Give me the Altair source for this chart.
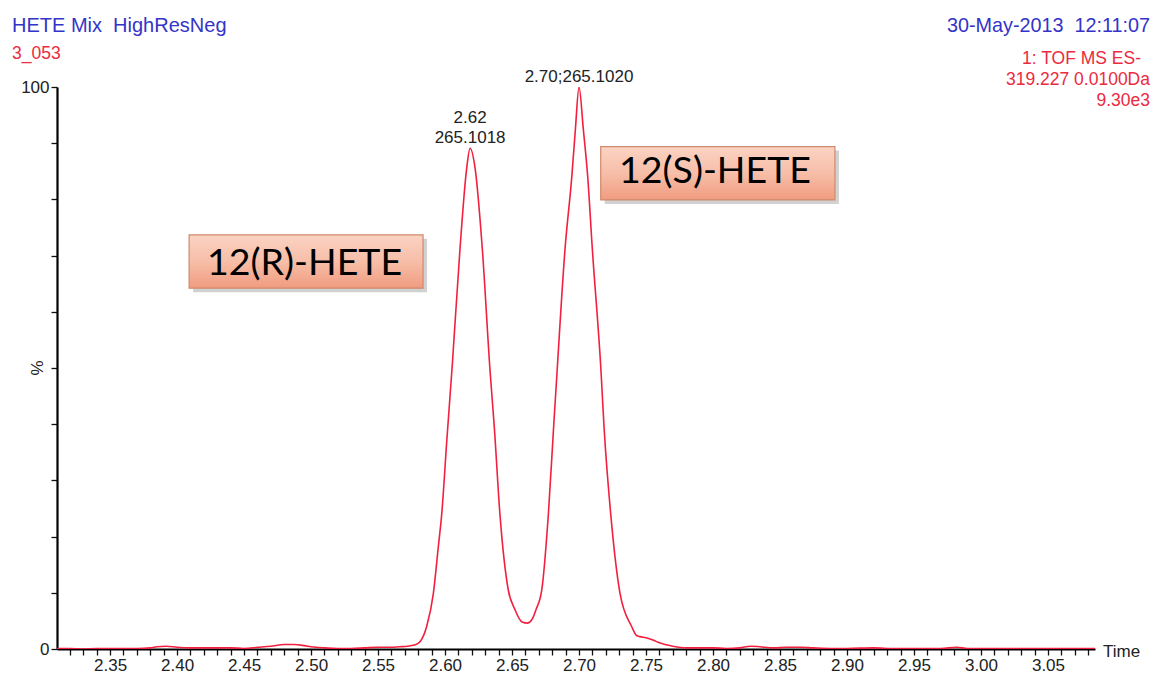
import altair as alt
import pandas as pd

# ---------------- data ----------------
time = [2.310, 2.320, 2.330, 2.340, 2.350, 2.360, 2.370, 2.380, 2.385, 2.392,
        2.400, 2.410, 2.420, 2.430, 2.440, 2.450, 2.460, 2.470, 2.480, 2.487,
        2.495, 2.500, 2.510, 2.520, 2.530, 2.540, 2.550, 2.560, 2.566, 2.572,
        2.577, 2.5813, 2.5863, 2.5913, 2.5950, 2.5975, 2.6013, 2.6054, 2.6112, 2.6162,
        2.6187, 2.6224, 2.6278, 2.6336, 2.6368, 2.6410, 2.6472, 2.6522, 2.6575, 2.6617,
        2.6650, 2.6679, 2.6722, 2.6771, 2.6813, 2.6834, 2.6896, 2.6946, 2.6973, 2.7000,
        2.7032, 2.7065, 2.7099, 2.7164, 2.7187, 2.7237, 2.7306, 2.7393, 2.7430, 2.7455,
        2.7500, 2.7552, 2.7600, 2.7700, 2.7800, 2.790, 2.800, 2.810, 2.820, 2.828,
        2.835, 2.845, 2.855, 2.865, 2.875, 2.890, 2.900, 2.920, 2.930, 2.950,
        2.970, 2.982, 2.990, 3.000, 3.020, 3.040, 3.060, 3.085]
pct = [0.1, 0.1, 0.0, 0.1, 0.1, 0.1, 0.1, 0.2, 0.4, 0.5,
       0.3, 0.2, 0.2, 0.2, 0.2, 0.1, 0.3, 0.5, 0.8, 0.8,
       0.6, 0.4, 0.2, 0.1, 0.1, 0.2, 0.3, 0.3, 0.4, 0.5,
       0.7, 1.3, 4.0, 9.9, 18.2, 23.9, 37.0, 50.5, 71.3, 85.6,
       89.1, 85.6, 71.3, 49.5, 39.4, 23.9, 10.5, 7.0, 4.8, 4.6,
       5.3, 7.0, 10.5, 23.9, 40.5, 48.5, 71.3, 84.0, 92.5, 100.0,
       92.5, 84.0, 71.3, 49.5, 39.4, 23.9, 9.9, 4.0, 2.4, 2.2,
       2.0, 1.6, 1.1, 0.5, 0.2, 0.2, 0.2, 0.1, 0.2, 0.5,
       0.4, 0.2, 0.3, 0.3, 0.2, 0.1, 0.1, 0.2, 0.1, 0.1,
       0.1, 0.3, 0.1, 0.1, 0.1, 0.1, 0.1, 0.1]

x_domain = [2.3104, 3.0851]
y_domain = [0, 100]
x_labels = ["2.35", "2.40", "2.45", "2.50", "2.55", "2.60", "2.65", "2.70",
            "2.75", "2.80", "2.85", "2.90", "2.95", "3.00", "3.05"]
x_ticks = [round(2.32 + 0.01 * i, 2) for i in range(77)]
y_ticks = [0, 10, 20, 30, 40, 50, 60, 70, 80, 90, 100]
y_labels = ["0", "100"]

NB = "\u00a0"
header_left = ["HETE Mix" + NB + " HighResNeg", "3_053"]
header_right = ["30-May-2013" + NB + " 12:11:07", "1: TOF MS ES-", "319.227 0.0100Da", "9.30e3"]
y_title = "%"
x_title = "Time"

peak_time = [2.6187, 2.7000]
peak_pct = [89.1, 100.0]
peak_label_top = ["2.62", ""]
peak_label_bottom = ["265.1018", "2.70;265.1020"]

box_name = ["12(R)-HETE", "12(S)-HETE"]
box_t0 = [2.4090, 2.7162]
box_t1 = [2.5836, 2.8910]
box_p0 = [64.2, 79.9]
box_p1 = [73.7, 89.4]
box_text_t = [2.4952, 2.8015]
box_text_p = [66.5, 82.9]

RED = "#f2203e"
BLUE = "#3434c8"
TXT_RED = "#ec2a40"
FONT = "Liberation Sans"

trace = pd.DataFrame({"time": time, "pct": pct})
peaks = pd.DataFrame({"time": peak_time, "pct": peak_pct,
                      "top": peak_label_top, "bottom": peak_label_bottom})
boxes = pd.DataFrame({"name": box_name, "t0": box_t0, "t1": box_t1,
                      "p0": box_p0, "p1": box_p1,
                      "tt": box_text_t, "tp": box_text_p})

xs = alt.Scale(domain=x_domain, nice=False, zero=False)
ys = alt.Scale(domain=y_domain, nice=False, zero=False)

label_list = "[" + ",".join("'%s'" % l for l in x_labels) + "]"
x_axis = alt.Axis(values=x_ticks, title=None, grid=False,
                  labelExpr="indexof(%s, format(datum.value, '.2f')) >= 0 ? format(datum.value, '.2f') : ''" % label_list,
                  labelOverlap=False, labelFlush=False, labelBound=False,
                  tickSize=6, tickWidth=1.3, tickColor="#111",
                  domainColor="#000", domainWidth=2.2,
                  labelFont=FONT, labelFontSize=17, labelColor="#222", labelPadding=2)
ylab_list = "[" + ",".join("'%s'" % l for l in y_labels) + "]"
y_axis = alt.Axis(values=y_ticks, title=None, grid=False,
                  labelExpr="indexof(%s, format(datum.value, 'd')) >= 0 ? format(datum.value, 'd') : ''" % ylab_list,
                  labelOverlap=False, labelFlush=False, labelBound=False,
                  tickSize=6, tickWidth=1.3, tickColor="#111",
                  domainColor="#000", domainWidth=2.2,
                  labelFont=FONT, labelFontSize=17, labelColor="#222", labelPadding=2)


def X(field):
    return alt.X(field, scale=xs, axis=x_axis)


def Y(field):
    return alt.Y(field, scale=ys, axis=y_axis)


line = alt.Chart(trace).mark_line(color=RED, strokeWidth=1.6, clip=True,
                                  interpolate="monotone").encode(
    x=X("time:Q"), y=Y("pct:Q"))

gradient = alt.LinearGradient(
    gradient="linear", x1=0, y1=0, x2=0, y2=1,
    stops=[alt.GradientStop(color="#fad3c3", offset=0),
           alt.GradientStop(color="#f7bea8", offset=0.5),
           alt.GradientStop(color="#f09c80", offset=1)])

shadow = alt.Chart(boxes).mark_rect(color="#7a7a7a", opacity=0.35,
                                    xOffset=4, x2Offset=4, yOffset=4, y2Offset=4).encode(
    x=X("t0:Q"), x2="t1:Q", y=Y("p0:Q"), y2="p1:Q")
rect = alt.Chart(boxes).mark_rect(color=gradient, stroke="#cf8a6c", strokeWidth=1.2).encode(
    x=X("t0:Q"), x2="t1:Q", y=Y("p0:Q"), y2="p1:Q")
box_text = alt.Chart(boxes).mark_text(font="Lato", fontSize=37.5, color="#000",
                                      align="center", baseline="alphabetic").encode(
    x=X("tt:Q"), y=Y("tp:Q"), text="name:N")

peak_top = alt.Chart(peaks).mark_text(font=FONT, fontSize=17, color="#222",
                                      align="center", baseline="bottom", dy=-21).encode(
    x=X("time:Q"), y=Y("pct:Q"), text="top:N")
peak_bottom = alt.Chart(peaks).mark_text(font=FONT, fontSize=17, color="#222",
                                         align="center", baseline="bottom", dy=-1).encode(
    x=X("time:Q"), y=Y("pct:Q"), text="bottom:N")


def fixed_text(txt, x, y, color, size, align):
    return alt.Chart(pd.DataFrame({"t": [txt]})).mark_text(
        font=FONT, fontSize=size, color=color, align=align, baseline="alphabetic"
    ).encode(text="t:N", x=alt.value(x), y=alt.value(y))


headers = [
    fixed_text(header_left[0], -45, -55, BLUE, 20, "left"),
    fixed_text(header_left[1], -45, -28, TXT_RED, 17.5, "left"),
    fixed_text(header_right[0], 1093, -55, BLUE, 19.8, "right"),
    fixed_text(header_right[1], 1084, -23, TXT_RED, 17.5, "right"),
    fixed_text(header_right[2], 1093, -2, TXT_RED, 17.5, "right"),
    fixed_text(header_right[3], 1093, 19, TXT_RED, 17.5, "right"),
]

pct_title = alt.Chart(pd.DataFrame({"t": [y_title]})).mark_text(
    font=FONT, fontSize=17, color="#222", angle=270, align="center", baseline="middle"
).encode(text="t:N", x=alt.value(-19), y=alt.value(281))

time_title = alt.Chart(pd.DataFrame({"t": [x_title]})).mark_text(
    font=FONT, fontSize=17, color="#222", align="left", baseline="middle"
).encode(text="t:N", x=alt.value(1046), y=alt.value(565))

chart = alt.layer(line, shadow, rect, box_text, peak_top, peak_bottom,
                  pct_title, time_title, *headers).properties(
    width=1038, height=562,
    autosize=alt.AutoSizeParams(type="none"),
    padding={"left": 57, "top": 87, "right": 56, "bottom": 32},
    background="white",
).configure_view(stroke=None)

chart.save("out.html", embed_options={"renderer": "svg", "actions": False})
